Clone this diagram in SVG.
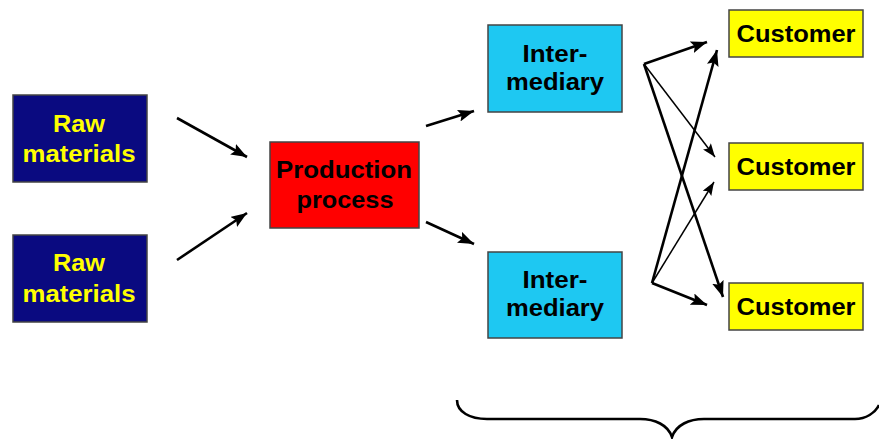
<svg xmlns="http://www.w3.org/2000/svg" width="879" height="439" viewBox="0 0 879 439">
<defs>
<style>
.box{stroke:#444;stroke-width:1.5}
.raw{fill:#0a0a80}
.prod{fill:#ff0000}
.inter{fill:#1ec8f2}
.cust{fill:#ffff00}
text{font-family:"Liberation Sans",Arial,sans-serif;font-weight:bold;font-size:23px;text-anchor:middle}
.yt{fill:#ffff00}
.bt{fill:#000}
.c{stroke:#000;fill:none}
.thick{stroke-width:2.6}
.thin{stroke-width:1.5}
</style>
<marker id="ah" viewBox="0 0 16 12" refX="16" refY="6" markerWidth="16" markerHeight="12" markerUnits="userSpaceOnUse" orient="auto">
<path d="M0,0 L16,6 L0,12 L3,6 z" fill="#000"/>
</marker>
<marker id="ahs" viewBox="0 0 16 12" refX="16" refY="6" markerWidth="14" markerHeight="10" markerUnits="userSpaceOnUse" orient="auto">
<path d="M0,0 L16,6 L0,12 L3,6 z" fill="#000"/>
</marker>
</defs>
<rect width="879" height="439" fill="#fff"/>
<g id="raw1">
<rect class="box raw" x="13" y="95" width="134" height="87"/>
<text class="yt" x="79" y="132" textLength="52" lengthAdjust="spacingAndGlyphs">Raw</text>
<text class="yt" x="79" y="162" textLength="113" lengthAdjust="spacingAndGlyphs">materials</text>
</g>
<g id="raw2">
<rect class="box raw" x="13" y="235" width="134" height="87"/>
<text class="yt" x="79" y="271" textLength="52" lengthAdjust="spacingAndGlyphs">Raw</text>
<text class="yt" x="79" y="302" textLength="113" lengthAdjust="spacingAndGlyphs">materials</text>
</g>
<g id="production">
<rect class="box prod" x="270" y="142" width="149" height="86"/>
<text class="bt" x="344" y="178" textLength="136" lengthAdjust="spacingAndGlyphs">Production</text>
<text class="bt" x="345" y="208" textLength="97" lengthAdjust="spacingAndGlyphs">process</text>
</g>
<g id="intermediary1">
<rect class="box inter" x="488" y="25" width="134" height="87"/>
<text class="bt" x="555" y="62" textLength="65" lengthAdjust="spacingAndGlyphs">Inter-</text>
<text class="bt" x="555" y="90" textLength="98" lengthAdjust="spacingAndGlyphs">mediary</text>
</g>
<g id="intermediary2">
<rect class="box inter" x="488" y="252" width="134" height="86"/>
<text class="bt" x="555" y="288" textLength="65" lengthAdjust="spacingAndGlyphs">Inter-</text>
<text class="bt" x="555" y="316" textLength="98" lengthAdjust="spacingAndGlyphs">mediary</text>
</g>
<g id="customer1">
<rect class="box cust" x="729" y="10" width="134" height="47"/>
<text class="bt" x="796" y="42" textLength="119" lengthAdjust="spacingAndGlyphs">Customer</text>
</g>
<g id="customer2">
<rect class="box cust" x="729" y="143" width="134" height="47"/>
<text class="bt" x="796" y="175" textLength="119" lengthAdjust="spacingAndGlyphs">Customer</text>
</g>
<g id="customer3">
<rect class="box cust" x="729" y="283" width="134" height="47"/>
<text class="bt" x="796" y="315" textLength="119" lengthAdjust="spacingAndGlyphs">Customer</text>
</g>
<g id="connectors">
<line class="c thick" x1="177" y1="118" x2="247" y2="157" marker-end="url(#ah)"/>
<line class="c thick" x1="177" y1="260" x2="247" y2="213" marker-end="url(#ah)"/>
<line class="c thick" x1="426" y1="126" x2="474" y2="111" marker-end="url(#ah)"/>
<line class="c thick" x1="426" y1="222" x2="474" y2="244" marker-end="url(#ah)"/>
<line class="c thick" x1="644" y1="64" x2="707" y2="42" marker-end="url(#ah)"/>
<line class="c thin" x1="644" y1="64" x2="715" y2="157" marker-end="url(#ahs)"/>
<line class="c thick" x1="644" y1="64" x2="723" y2="297" marker-end="url(#ah)"/>
<line class="c thick" x1="652" y1="283" x2="717" y2="50" marker-end="url(#ah)"/>
<line class="c thin" x1="652" y1="283" x2="714" y2="182" marker-end="url(#ahs)"/>
<line class="c thick" x1="652" y1="283" x2="707" y2="305" marker-end="url(#ah)"/>
<path class="c thick" d="M457,400 C457,412 470,419 487,419 L640,419 C655,419 668,425 672,437 C676,425 689,419 704,419 L855,419 C866,419 875,413 879,405"/>
</g>
</svg>
